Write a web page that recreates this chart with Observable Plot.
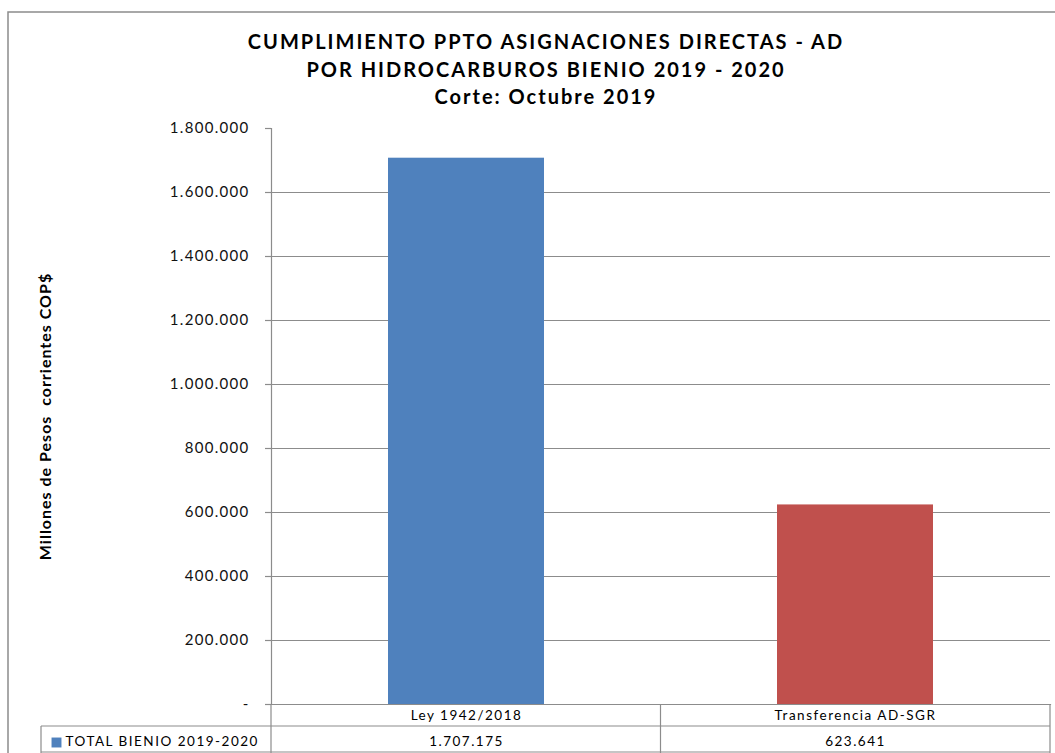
<!DOCTYPE html>
<html>
<head>
<meta charset="utf-8">
<script src="https://cdn.jsdelivr.net/npm/d3@7"></script>
<script src="https://cdn.jsdelivr.net/npm/@observablehq/plot@0.6"></script>
<style>
  html, body { margin: 0; padding: 0; background: #fff; }
  #chart svg { display: block; }
</style>
</head>
<body>
<div id="chart"></div>
<script>
// ---- data ----
const categories = ["Ley 1942/2018", "Transferencia AD-SGR"];
const values = [1707175, 623641];
const barColors = ["#4F81BD", "#C0504D"];
const seriesName = "TOTAL BIENIO 2019-2020";
const yTicks = [0, 200000, 400000, 600000, 800000, 1000000, 1200000, 1400000, 1600000, 1800000];
const gridTicks = [200000, 400000, 600000, 800000, 1000000, 1200000, 1400000, 1600000];
const titleLines = [
  "CUMPLIMIENTO PPTO ASIGNACIONES DIRECTAS - AD",
  "POR HIDROCARBUROS BIENIO 2019 - 2020",
  "Corte: Octubre 2019"
];
const yLabel = "Millones de Pesos  corrientes COP$";

const rows = categories.map((c, i) => ({category: c, value: values[i], color: barColors[i]}));

const loc = d3.formatLocale({decimal: ",", thousands: ".", grouping: [3], currency: ["$", ""]});
const fmt = loc.format(",d");
const tickFmt = d => d === 0 ? "-" : fmt(d);

const FONT = "Lato, 'Open Sans', sans-serif";
const GRAY = "#8c8c8c";

const plot = Plot.plot({
  width: 1055,
  height: 753,
  marginLeft: 271,
  marginRight: 5,
  marginTop: 128,
  marginBottom: 49,
  style: {fontFamily: FONT, color: "#1a1a1a", background: "transparent"},
  x: {domain: categories, paddingInner: 0.6, paddingOuter: 0.3, axis: null},
  y: {domain: [0, 1800000], axis: null},
  marks: [
    Plot.gridY(gridTicks, {stroke: GRAY, strokeOpacity: 1, strokeWidth: 1.2}),
    Plot.barY(rows, {x: "category", y: "value", fill: "color"}),
    Plot.axisY(yTicks, {tickFormat: tickFmt, tickSize: 6, tickPadding: 16, fontSize: 15, stroke: GRAY, strokeWidth: 1.2, label: null, fill: "#111"}),
    Plot.frame({anchor: "left", stroke: GRAY, strokeWidth: 1.2}),
    Plot.frame({anchor: "bottom", stroke: GRAY, strokeWidth: 1.2}),
    Plot.text([yLabel], {ariaDescription: "ylabel", frameAnchor: "left", textAnchor: "middle", lineAnchor: "middle", dx: -226, rotate: -90, fontWeight: "bold", fontSize: 16, fill: "#000"}),
    Plot.text([titleLines[0]], {ariaDescription: "title", frameAnchor: "top", lineAnchor: "middle", dx: -115, dy: -86, fontWeight: "bold", fontSize: 20, fill: "#000"}),
    Plot.text([titleLines[1]], {ariaDescription: "title", frameAnchor: "top", lineAnchor: "middle", dx: -115, dy: -58, fontWeight: "bold", fontSize: 20, fill: "#000"}),
    Plot.text([titleLines[2]], {ariaDescription: "title", frameAnchor: "top", lineAnchor: "middle", dx: -115, dy: -31, fontWeight: "bold", fontSize: 20, fill: "#000"}),
    // data table
    Plot.text(rows, {ariaDescription: "table", x: "category", text: "category", frameAnchor: "bottom", lineAnchor: "middle", dy: 11, fontSize: 13.5, fill: "#000"}),
    Plot.text(rows, {ariaDescription: "table", x: "category", text: d => fmt(d.value), frameAnchor: "bottom", lineAnchor: "middle", dy: 37, fontSize: 13.5, fill: "#000"}),
    Plot.text([seriesName], {ariaDescription: "table", frameAnchor: "bottom-left", lineAnchor: "middle", textAnchor: "start", dx: -206, dy: 37, fontSize: 13.5, fill: "#000"}),
    Plot.dot([seriesName], {frameAnchor: "bottom-left", dx: -215, dy: 38, symbol: "square", r: 5.6, fill: barColors[0], stroke: null})
  ]
});

// widen text to match the reference's spacing
const svgSel = d3.select(plot);
svgSel.selectAll('[aria-description="title"]').attr("letter-spacing", 2);
svgSel.selectAll('[aria-description="ylabel"]').attr("letter-spacing", 1);
svgSel.selectAll('[aria-description="table"]').attr("letter-spacing", 1.5);
svgSel.selectAll('g[aria-label="y-axis tick label"]').attr("letter-spacing", 1.3);

// table borders and outer border, positioned from the x scale
const xs = plot.scale("x");
const tLeft = 271, tRight = 1050, tTop = 704, tMid = 726, tBottom = 752, tKeyLeft = 41;
const centers = categories.map(c => xs.apply(c) + xs.bandwidth / 2);
const divider = (centers[0] + centers[1]) / 2;
const g = svgSel.append("g").attr("stroke", GRAY).attr("stroke-width", 1.2).attr("fill", "none");
g.append("line").attr("x1", tKeyLeft).attr("x2", tRight).attr("y1", tMid).attr("y2", tMid);
g.append("line").attr("x1", tKeyLeft).attr("x2", tRight).attr("y1", tBottom).attr("y2", tBottom);
[tLeft, divider, tRight].forEach(x => g.append("line").attr("x1", x).attr("x2", x).attr("y1", tTop).attr("y2", 753));
g.append("line").attr("x1", tKeyLeft).attr("x2", tKeyLeft).attr("y1", tMid).attr("y2", 753);
svgSel.append("rect").attr("x", 8).attr("y", 12).attr("width", 1100).attr("height", 800)
  .attr("fill", "none").attr("stroke", GRAY).attr("stroke-width", 1.5);

document.getElementById("chart").appendChild(plot);
</script>
</body>
</html>
